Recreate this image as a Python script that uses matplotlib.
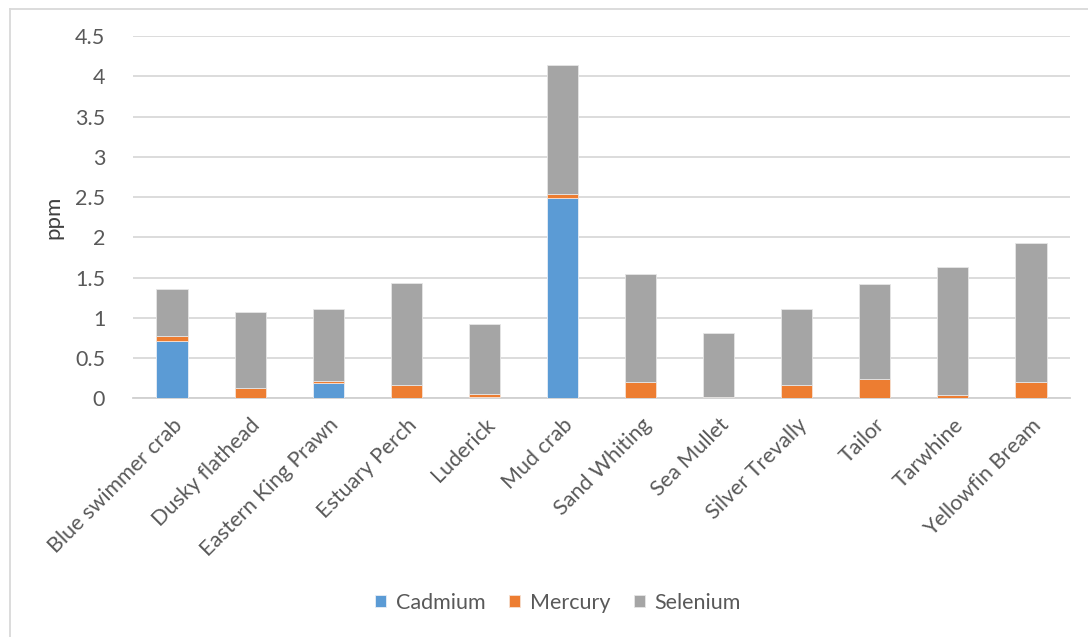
import matplotlib
matplotlib.use("Agg")
import matplotlib.pyplot as plt
import numpy as np
from matplotlib.lines import Line2D

categories = ["Blue swimmer crab", "Dusky flathead", "Eastern King Prawn", "Estuary Perch",
              "Luderick", "Mud crab", "Sand Whiting", "Sea Mullet", "Silver Trevally",
              "Tailor", "Tarwhine", "Yellowfin Bream"]
cadmium = [0.715, 0.005, 0.195, 0.005, 0.012, 2.49, 0.003, 0.003, 0.003, 0.003, 0.003, 0.003]
mercury = [0.06, 0.123, 0.024, 0.16, 0.045, 0.05, 0.196, 0.017, 0.163, 0.241, 0.034, 0.196]
selenium = [0.583, 0.944, 0.887, 1.265, 0.87, 1.606, 1.341, 0.787, 0.944, 1.172, 1.59, 1.735]

plt.rcParams['font.family'] = ['Lato', 'DejaVu Sans']
fig = plt.figure(figsize=(10.88, 6.37), dpi=100)
ax = fig.add_axes([133/1088, 1-398.3/637, (1070-133)/1088, (398.3-36)/637])

x = np.arange(len(categories))
w = 0.40
cd = np.array(cadmium); hg = np.array(mercury); se = np.array(selenium)
ax.bar(x, cd, w, color="#5B9BD5", edgecolor="#e8eef6", linewidth=0.6, label="Cadmium", zorder=3)
ax.bar(x, hg, w, bottom=cd, color="#ED7D31", edgecolor="#f6e0d2", linewidth=0.6, label="Mercury", zorder=3)
ax.bar(x, se, w, bottom=cd+hg, color="#A5A5A5", edgecolor="#e6e6e6", linewidth=0.6, label="Selenium", zorder=3)

ax.set_xlim(-0.5, len(categories)-0.5)
ax.set_ylim(0, 4.5)
ax.set_yticks(np.arange(0, 4.51, 0.5))
ax.set_yticklabels(["0", "0.5", "1", "1.5", "2", "2.5", "3", "3.5", "4", "4.5"])
ax.yaxis.grid(True, color="#d9d9d9", linewidth=1.3, zorder=0)
ax.set_axisbelow(True)
for s in ["top", "right", "left"]:
    ax.spines[s].set_visible(False)
ax.spines["bottom"].set_color("#d0d0d0")
ax.spines["bottom"].set_linewidth(1.3)
ax.tick_params(axis="both", length=0, colors="#595959", labelsize=15.5)
ax.tick_params(axis="y", pad=20)
ax.set_xticks(x)
ax.set_xticklabels(categories, rotation=45, ha="right", rotation_mode="anchor")
ax.tick_params(axis="x", pad=12)
ax.set_ylabel("ppm", color="#404040", fontsize=16, labelpad=8)

handles, labels = ax.get_legend_handles_labels()
leg = fig.legend(handles, labels, loc="center", bbox_to_anchor=(558/1088, 1-603/637), ncol=3,
                 frameon=False, fontsize=15.5, handlelength=0.5, handleheight=0.5,
                 columnspacing=1.1, handletextpad=0.45)
for t in leg.get_texts():
    t.set_color("#595959")

# chart area border (top and left visible)
fig.add_artist(Line2D([9.5/1088, 1], [1-8.5/637, 1-8.5/637], color="#d9d9d9", linewidth=1.3, transform=fig.transFigure))
fig.add_artist(Line2D([9.5/1088, 9.5/1088], [0, 1-8.5/637], color="#d9d9d9", linewidth=1.3, transform=fig.transFigure))

fig.savefig("out.png", dpi=100)
